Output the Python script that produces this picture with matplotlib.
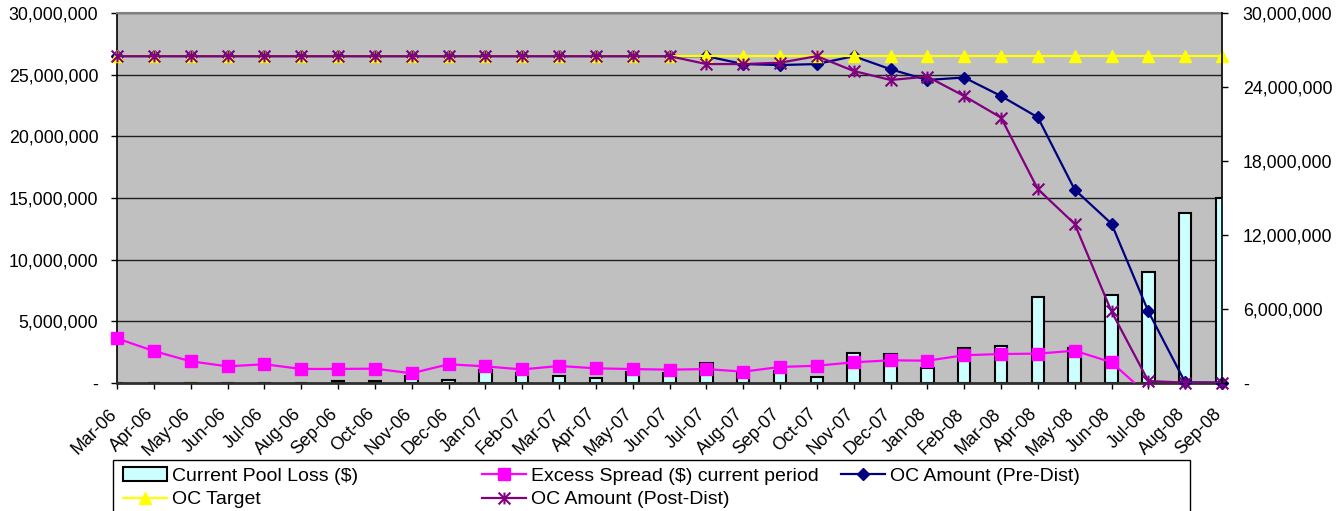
import numpy as np
import matplotlib
matplotlib.use('Agg')
import matplotlib.pyplot as plt
import matplotlib.transforms as mtransforms
from matplotlib.path import Path
from matplotlib.patches import Rectangle, Patch
from matplotlib.lines import Line2D
from matplotlib.ticker import FuncFormatter

plt.rcParams['font.family'] = ['Liberation Sans', 'DejaVu Sans']

months = ['Mar-06', 'Apr-06', 'May-06', 'Jun-06', 'Jul-06', 'Aug-06', 'Sep-06', 'Oct-06',
          'Nov-06', 'Dec-06', 'Jan-07', 'Feb-07', 'Mar-07', 'Apr-07', 'May-07', 'Jun-07',
          'Jul-07', 'Aug-07', 'Sep-07', 'Oct-07', 'Nov-07', 'Dec-07', 'Jan-08', 'Feb-08',
          'Mar-08', 'Apr-08', 'May-08', 'Jun-08', 'Jul-08', 'Aug-08', 'Sep-08']

# all amounts in $ millions
pool_loss = [0, 0, 0, 0, 0, 0, 0.15, 0.18, 0.57, 0.22,
             1.05, 0.79, 0.60, 0.38, 0.87, 0.84, 1.60, 0.87, 1.00, 0.51,
             2.46, 2.35, 1.24, 2.81, 2.97, 6.95, 2.81, 7.16, 9.02, 13.80, 15.00]
excess_spread = [3.62, 2.59, 1.76, 1.35, 1.52, 1.14, 1.14, 1.16, 0.79, 1.52,
                 1.35, 1.10, 1.38, 1.19, 1.13, 1.08, 1.13, 0.92, 1.30, 1.40,
                 1.68, 1.84, 1.81, 2.25, 2.35, 2.38, 2.62, 1.68, -1.00, -1.00, -1.00]
oc_pre = [26.5, 26.5, 26.5, 26.5, 26.5, 26.5, 26.5, 26.5, 26.5, 26.5,
          26.5, 26.5, 26.5, 26.5, 26.5, 26.5, 26.5, 25.86, 25.78, 25.86,
          26.5, 25.44, 24.57, 24.77, 23.27, 21.54, 15.68, 12.92, 5.80, 0.05, 0.03]
oc_target = [26.5, 26.5, 26.5, 26.5, 26.5, 26.5, 26.5, 26.5, 26.5, 26.5,
             26.5, 26.5, 26.5, 26.5, 26.5, 26.5, 26.5, 26.5, 26.5, 26.5,
             26.5, 26.5, 26.5, 26.5, 26.5, 26.5, 26.5, 26.5, 26.5, 26.5, 26.5]
oc_post = [26.5, 26.5, 26.5, 26.5, 26.5, 26.5, 26.5, 26.5, 26.5, 26.5,
           26.5, 26.5, 26.5, 26.5, 26.5, 26.5, 25.86, 25.86, 25.97, 26.5,
           25.30, 24.57, 24.84, 23.27, 21.52, 15.72, 12.90, 5.80, 0.16, 0.03, 0.03]

W, H = 1344, 511
fig = plt.figure(figsize=(W / 100, H / 100), dpi=100)
ax = fig.add_axes([117 / W, 1 - 383 / H, 1105 / W, 370 / H])
ax.set_facecolor('#C0C0C0')
x = np.arange(len(months))
YMAX = 30e6


def money(v, pos):
    return '-' if v == 0 else f'{v:,.0f}'


# bars for the monthly pool loss
ax.bar(x, np.array(pool_loss) * 1e6, width=0.34, color='#CCFFFF',
       edgecolor='black', linewidth=1.5, zorder=2)

star = Path([(0, -1), (0, 1), (-1, -1), (1, 1), (-1, 1), (1, -1)],
            [Path.MOVETO, Path.LINETO] * 3)


def series(vals, color, marker, ms, z, mew=1.0):
    y = np.array(vals) * 1e6
    ax.plot(x, y, color=color, lw=1.6, zorder=z)
    # markers are only drawn for points inside the value range, and not cut at the frame
    ok = (y >= 0) & (y <= YMAX)
    ax.plot(x[ok], y[ok], ls='none', marker=marker, ms=ms, color=color,
            mec=color, mfc=color, mew=mew, clip_on=False, zorder=z)
    return Line2D([], [], color=color, lw=1.6, marker=marker, ms=ms,
                  mec=color, mfc=color, mew=mew)


h_exc = series(excess_spread, '#FF00FF', 's', 9, 3)
h_pre = series(oc_pre, '#000080', 'D', 5.8, 4)
h_tgt = series(oc_target, '#FFFF00', '^', 9, 5)
h_post = series(oc_post, '#800080', star, 8.5, 6, mew=1.5)

ax.set_xlim(0, len(months) - 1)
ax.set_ylim(0, YMAX)
ax.set_yticks(np.arange(0, YMAX + 1, 5e6))
ax.yaxis.set_major_formatter(FuncFormatter(money))
ax.grid(axis='y', color='#1e1e1e', lw=1.0)
ax.set_axisbelow(True)
ax.tick_params(axis='y', length=4.5, width=1, pad=9, labelsize=12.8)

ax.set_xticks(x)
ax.set_xticklabels(months, rotation=45, ha='right', va='center',
                   rotation_mode='anchor', fontsize=12.8)
ax.tick_params(axis='x', length=4.5, width=1, pad=16)
shift = mtransforms.ScaledTranslation(-3 / 100, 0, fig.dpi_scale_trans)
for lab in ax.get_xticklabels():
    lab.set_transform(lab.get_transform() + shift)

ax.spines['top'].set_color('#808080')
ax.spines['top'].set_linewidth(1.5)
ax.spines['left'].set_linewidth(1.2)
ax.spines['bottom'].set_color('#303030')
ax.spines['bottom'].set_linewidth(2)
ax.spines['right'].set_visible(False)

ax2 = ax.twinx()
ax2.set_ylim(0, YMAX)
ax2.set_yticks(np.arange(0, YMAX + 1, 6e6))
ax2.yaxis.set_major_formatter(FuncFormatter(money))
ax2.tick_params(axis='y', length=4, width=1, pad=11, labelsize=12.8)
for s in ['top', 'left', 'bottom']:
    ax2.spines[s].set_visible(False)
ax2.spines['right'].set_linewidth(1.2)

# legend frame plus three columns
fig.add_artist(Rectangle((113 / W, -0.05), 1077 / W, 0.05 + 1 - 460 / H,
                         transform=fig.transFigure, facecolor='white',
                         edgecolor='black', lw=1.0, zorder=0))
h_loss = Patch(facecolor='#CCFFFF', edgecolor='black', linewidth=1.5)
columns = [
    (123, [h_loss, h_tgt], ['Current Pool Loss ($)', 'OC Target']),
    (482, [h_exc, h_post], ['Excess Spread ($) current period', 'OC Amount (Post-Dist)']),
    (841, [h_pre], ['OC Amount (Pre-Dist)']),
]
for left, handles, labels in columns:
    fig.legend(handles, labels, loc='upper left',
               bbox_to_anchor=(left / W, 1 - 467 / H), bbox_transform=fig.transFigure,
               frameon=False, borderpad=0, borderaxespad=0, fontsize=14,
               handlelength=2.25, handletextpad=0.25, labelspacing=0.32)

fig.savefig('out.png', dpi=100)
